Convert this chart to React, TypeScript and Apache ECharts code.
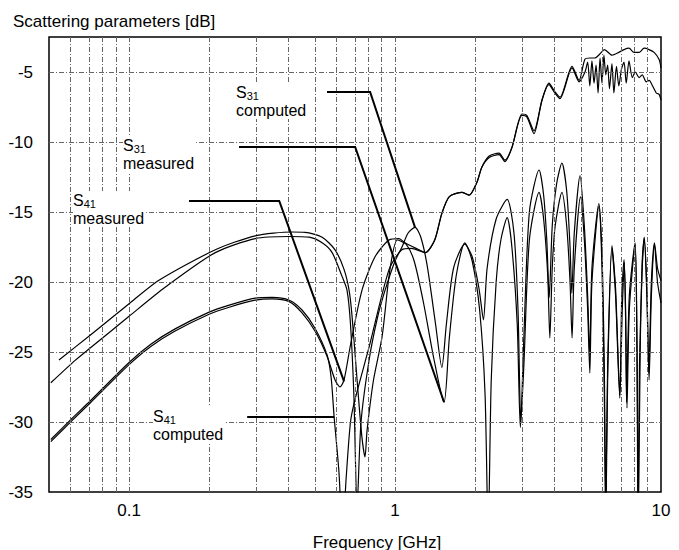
import React, { useEffect, useRef } from "react";
import * as echarts from "echarts";

// ---- tick labels / grid values ----
const freqTickValues = [0.1, 1, 10];
const freqTickLabels = ["0.1", "1", "10"];
const freqGridValues = [0.06, 0.07, 0.08, 0.09, 0.1, 0.2, 0.3, 0.4, 0.5, 0.6, 0.7, 0.8, 0.9, 1, 2, 3, 4, 5, 6, 7, 8, 9];
const dbGridValues = [-30, -25, -20, -15, -10, -5];

// ---- series values: [frequency GHz, dB] ----
const s31Measured: [number, number][] = [
  [0.0545, -25.57], [0.0714, -23.8], [0.1, -21.55], [0.13, -19.86], [0.211, -17.7], [0.298, -16.7],
  [0.41, -16.43], [0.459, -16.45], [0.532, -16.8], [0.595, -17.7], [0.643, -19.1], [0.672, -20.6],
  [0.689, -22.4], [0.72, -27.0], [0.75, -31.0], [0.771, -32.5], [0.785, -30.6], [0.83, -27.0], [0.894, -23.9],
  [0.957, -19.1], [1.02, -17.0], [1.1, -17.3], [1.18, -18.5], [1.28, -21.5], [1.4, -25.5], [1.528, -28.6],
  [1.6, -24.0], [1.7, -19.5], [1.83, -17.2], [1.95, -18.5], [2.08, -22.0], [2.18, -28.0], [2.24, -38.0],
  [2.3, -27.0], [2.4, -20.0], [2.5, -17.0], [2.64, -15.4], [2.75, -17.5], [2.88, -23.0], [2.96, -30.4],
  [3.05, -26.0], [3.2, -17.0], [3.48, -13.6], [3.62, -15.5], [3.75, -19.5], [3.82, -24.0], [3.9, -19.0],
  [4.0, -16.0], [4.24, -13.6], [4.42, -16.0], [4.55, -20.0], [4.63, -24.0], [4.72, -19.0], [4.98, -13.9],
  [5.15, -17.0], [5.3, -22.0], [5.4, -26.5], [5.5, -20.0], [5.84, -14.6], [6.0, -19.0], [6.12, -28.0],
  [6.2, -38.0], [6.3, -27.0], [6.54, -17.6], [6.75, -21.0], [7.0, -28.3], [7.15, -22.0], [7.28, -18.6],
  [7.38, -24.0], [7.45, -29.0], [7.6, -22.0], [7.99, -17.3], [8.12, -25.0], [8.2, -38.0], [8.3, -26.0],
  [8.5, -19.0], [8.65, -16.9], [8.85, -21.0], [9.02, -27.0], [9.2, -21.0], [9.45, -17.3], [9.7, -20.0],
  [10, -21.5],
];

const s31Computed: [number, number][] = [
  [0.0508, -27.2], [0.0627, -25.6], [0.0714, -24.72], [0.1, -22.45], [0.137, -20.36], [0.211, -17.9],
  [0.298, -16.9], [0.4, -16.75], [0.475, -16.8], [0.532, -17.2], [0.58, -17.9], [0.632, -19.6], [0.66, -20.6],
  [0.68, -23.0], [0.7, -28.0], [0.72, -36.0], [0.745, -30.0], [0.8, -25.5], [0.86, -22.5], [0.917, -20.6],
  [1.0, -18.5], [1.062, -17.5], [1.12, -16.5], [1.189, -16.1], [1.25, -16.8], [1.32, -18.8], [1.42, -23.0],
  [1.5, -26.1], [1.56, -23.0], [1.66, -19.0], [1.83, -17.3], [1.95, -18.2], [2.07, -20.5], [2.15, -22.7],
  [2.22, -19.0], [2.4, -15.5], [2.64, -14.1], [2.8, -16.5], [2.9, -22.0], [2.97, -30.0], [3.05, -24.0],
  [3.2, -15.0], [3.48, -12.0], [3.62, -13.8], [3.72, -17.0], [3.8, -21.1], [3.9, -16.0], [4.05, -13.0],
  [4.24, -11.5], [4.42, -13.5], [4.55, -17.5], [4.62, -20.8], [4.72, -16.5], [4.96, -12.4], [5.15, -16.0],
  [5.3, -21.0], [5.4, -25.2], [5.5, -19.0], [5.84, -14.4], [6.0, -18.0], [6.12, -26.0], [6.2, -36.0],
  [6.3, -26.0], [6.54, -17.4], [6.75, -20.5], [7.0, -28.1], [7.12, -21.0], [7.26, -18.4], [7.36, -22.0],
  [7.42, -28.6], [7.6, -21.0], [7.99, -17.2], [8.12, -24.0], [8.22, -37.0], [8.35, -25.0], [8.5, -18.5],
  [8.65, -16.8], [8.85, -20.5], [9.0, -26.5], [9.2, -20.0], [9.45, -17.2], [9.7, -19.0], [10, -19.9],
];

const s41Measured: [number, number][] = [
  [0.0508, -31.4], [0.061, -29.9], [0.0714, -28.64], [0.1, -25.9], [0.1207, -24.6], [0.149, -23.5],
  [0.2, -22.3], [0.238, -21.8], [0.298, -21.3], [0.345, -21.2], [0.4, -21.4], [0.447, -22.2], [0.5, -23.5],
  [0.555, -25.3], [0.595, -27.0], [0.621, -27.5], [0.643, -27.0], [0.68, -24.5], [0.751, -20.6],
  [0.841, -18.2], [0.949, -17.0], [1.035, -16.9], [1.09, -17.2], [1.2, -17.6], [1.3, -17.9], [1.41, -17.0],
  [1.5, -15.1], [1.6, -13.9], [1.79, -13.6], [1.9, -13.8], [2.03, -12.9], [2.12, -11.8], [2.26, -11.1],
  [2.46, -10.9], [2.59, -11.4], [2.75, -10.4], [3.0, -8.1], [3.13, -8.2], [3.33, -9.4], [3.57, -7.0],
  [3.79, -5.9], [3.99, -6.5], [4.17, -6.9], [4.63, -4.7], [4.92, -5.7], [5.18, -5.0], [5.3, -4.3],
  [5.4, -6.0], [5.5, -4.2], [5.6, -5.8], [5.7, -4.5], [5.8, -6.5], [5.9, -4.0], [6.0, -5.8], [6.1, -3.8],
  [6.2, -5.2], [6.3, -4.5], [6.4, -6.2], [6.54, -4.4], [6.65, -6.5], [6.8, -4.6], [6.94, -6.0], [7.1, -4.8],
  [7.26, -4.3], [7.4, -5.8], [7.58, -4.2], [7.8, -5.4], [8.0, -5.0], [8.27, -5.4], [8.5, -5.2], [8.8, -5.7],
  [9.02, -5.6], [9.3, -6.0], [9.6, -6.5], [9.84, -6.6], [10, -7.0],
];

const s41Computed: [number, number][] = [
  [0.0508, -31.25], [0.061, -29.75], [0.0714, -28.5], [0.1, -25.75], [0.1207, -24.45], [0.149, -23.35],
  [0.2, -22.15], [0.238, -21.65], [0.298, -21.15], [0.345, -21.1], [0.4, -21.3], [0.447, -22.0], [0.5, -23.3],
  [0.555, -25.2], [0.575, -26.8], [0.59, -29.6], [0.615, -33.5], [0.635, -38.0], [0.655, -34.0], [0.68, -30.0],
  [0.707, -28.4], [0.8, -24.6], [0.95, -19.1], [1.06, -17.7], [1.15, -17.6], [1.3, -17.9], [1.41, -17.0],
  [1.5, -15.1], [1.6, -13.9], [1.79, -13.6], [1.9, -13.8], [2.03, -12.9], [2.12, -11.8], [2.26, -11.0],
  [2.46, -10.8], [2.59, -11.3], [2.75, -10.4], [3.0, -8.0], [3.13, -8.1], [3.33, -9.2], [3.57, -7.0],
  [3.79, -5.8], [3.99, -6.4], [4.17, -6.8], [4.63, -4.6], [4.92, -5.6], [5.17, -4.1], [5.4, -4.0],
  [5.63, -4.0], [5.9, -3.7], [6.13, -3.4], [6.54, -3.8], [6.94, -3.6], [7.26, -3.4], [7.58, -3.3],
  [7.92, -3.6], [8.27, -3.6], [8.64, -3.3], [9.02, -3.4], [9.42, -3.6], [9.84, -4.1], [10, -4.7],
];

// ---- annotations: label text and leader anchor points [GHz, dB] ----
const annotations = [
  { sub: "31", word: "computed", px: 236, py1: 92, leader: [[0.555, -6.43], [0.806, -6.43], [1.189, -16.1]] },
  { sub: "31", word: "measured", px: 123, py1: 145, leader: [[0.259, -10.36], [0.708, -10.36], [1.528, -28.57]] },
  { sub: "41", word: "measured", px: 73, py1: 200, leader: [[0.168, -14.21], [0.367, -14.21], [0.643, -27.1]] },
  { sub: "41", word: "computed", px: 153, py1: 416, leader: [[0.278, -29.64], [0.59, -29.64]] },
];

const FONT = "'Liberation Sans', Arial, Helvetica, sans-serif";

const toXY = (arr: [number, number][]) => arr.map(([f, v]) => [Math.log10(f), v]);

function labelFor(v: number) {
  let best = 0;
  for (let i = 1; i < freqTickValues.length; i++) {
    if (Math.abs(Math.log10(freqTickValues[i]) - v) < Math.abs(Math.log10(freqTickValues[best]) - v)) best = i;
  }
  return freqTickLabels[best];
}

export default function App() {
  const ref = useRef<HTMLDivElement>(null);
  useEffect(() => {
    if (!ref.current) return;
    const chart = echarts.init(ref.current, undefined, { renderer: "svg" });
    const mk = (name: string, arr: [number, number][], width: number) => ({
      name,
      type: "line",
      data: toXY(arr),
      showSymbol: false,
      symbol: "none",
      smooth: 0.25,
      clip: true,
      silent: true,
      z: 3,
      lineStyle: { color: "#000", width },
    });
    chart.setOption({
      animation: false,
      backgroundColor: "#fff",
      grid: { left: 49, top: 37, right: 18, bottom: 58, show: true, borderColor: "#000", borderWidth: 1.5, backgroundColor: "transparent" },
      xAxis: {
        type: "value",
        min: Math.log10(0.05),
        max: 1,
        axisLine: { show: false },
        axisTick: { show: false },
        splitLine: { show: false },
        axisLabel: {
          customValues: freqTickValues.map((f) => Math.log10(f)),
          formatter: (v: number) => labelFor(v),
          fontSize: 17,
          fontFamily: FONT,
          color: "#000",
          margin: 10,
        },
      },
      yAxis: {
        type: "value",
        min: -35,
        max: -2.5,
        interval: 5,
        axisLine: { show: false },
        axisTick: { show: false },
        splitLine: { show: false },
        axisLabel: { showMaxLabel: false, fontSize: 17, fontFamily: FONT, color: "#000", margin: 16 },
      },
      series: [
        {
          name: "grid",
          type: "line",
          data: [],
          silent: true,
          z: 1,
          markLine: {
            silent: true,
            symbol: ["none", "none"],
            label: { show: false },
            lineStyle: { color: "#666", width: 1, type: [5, 2, 1, 2] },
            data: [
              ...freqGridValues.map((f) => ({ xAxis: Math.log10(f) })),
              ...dbGridValues.map((v) => ({ yAxis: v })),
            ],
          },
        },
        mk("S31 measured", s31Measured, 1.2),
        mk("S31 computed", s31Computed, 1.2),
        mk("S41 measured", s41Measured, 1.2),
        mk("S41 computed", s41Computed, 1.2),
      ],
    });

    const graphics: any[] = [
      {
        type: "text",
        x: 13,
        y: 21,
        z: 100,
        style: { text: "Scattering parameters [dB]", font: `17px ${FONT}`, fill: "#000", textVerticalAlign: "middle", verticalAlign: "middle" },
      },
      {
        type: "text",
        x: 377,
        y: 542,
        z: 100,
        style: { text: "Frequency [GHz]", font: `17px ${FONT}`, fill: "#000", textAlign: "center", align: "center", textVerticalAlign: "middle", verticalAlign: "middle" },
      },
    ];
    annotations.forEach((a) => {
      const pts = a.leader.map(([f, v]) => chart.convertToPixel({ gridIndex: 0 }, [Math.log10(f), v]) as number[]);
      graphics.push({
        type: "polyline",
        z: 90,
        shape: { points: pts },
        style: { stroke: "#000", lineWidth: 2, fill: null },
      });
      graphics.push({
        type: "text",
        x: a.px,
        y: a.py1 - 9,
        z: 100,
        style: {
          text: `{s|S}{n|${a.sub}}\n{w|${a.word}}`,
          fill: "#000",
          textVerticalAlign: "top",
          verticalAlign: "top",
          backgroundColor: "#fff",
          padding: [0, 2, 0, 0],
          rich: {
            s: { fontSize: 16, lineHeight: 18, fontFamily: FONT, fill: "#000" },
            n: { fontSize: 11, lineHeight: 12, fontFamily: FONT, fill: "#000", verticalAlign: "bottom" },
            w: { fontSize: 16, lineHeight: 18, fontFamily: FONT, fill: "#000" },
          },
        },
      });
    });
    chart.setOption({ graphic: graphics });

    return () => chart.dispose();
  }, []);
  return <div ref={ref} style={{ position: "fixed", left: 0, top: 0, width: 679, height: 550, background: "#fff" }} />;
}
